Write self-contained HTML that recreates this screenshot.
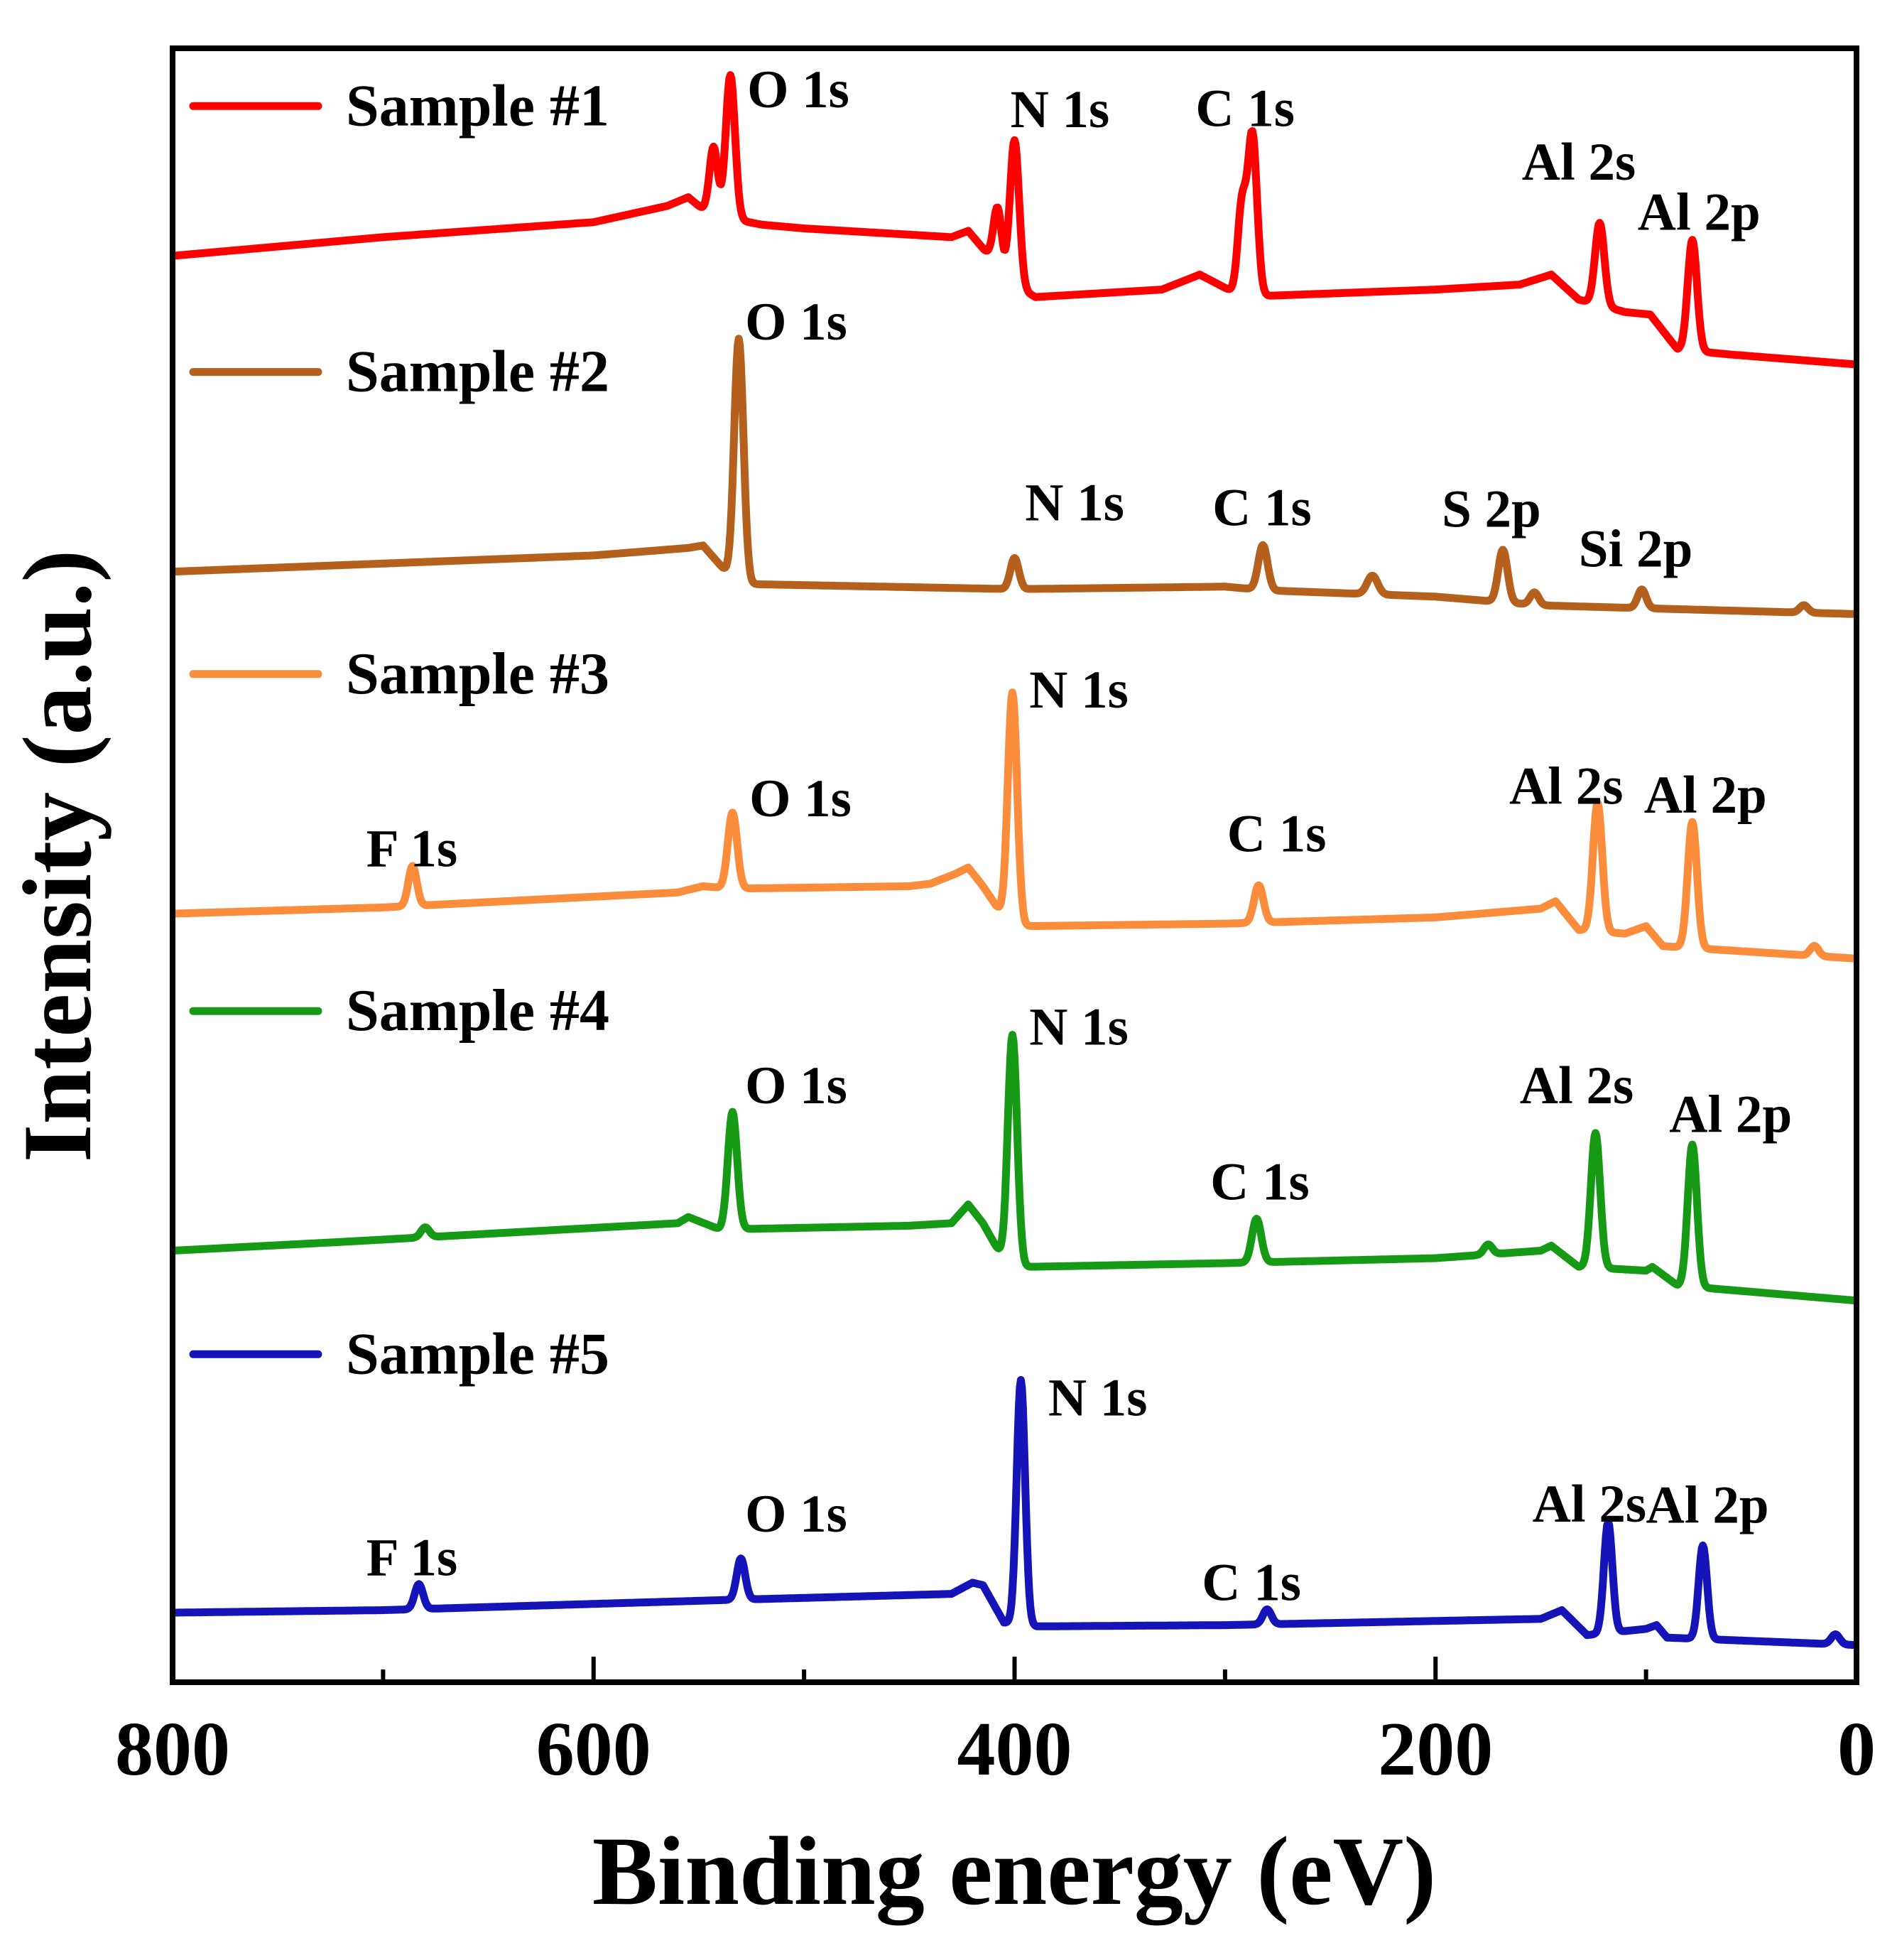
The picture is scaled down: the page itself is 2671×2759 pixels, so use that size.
<!DOCTYPE html>
<html><head><meta charset="utf-8"><style>
html,body{margin:0;padding:0;background:#fff}
svg{display:block}
text{font-family:"Liberation Serif",serif;font-weight:bold;fill:#000}
</style></head><body>
<svg id="chart" width="2671" height="2759" viewBox="0 0 2671 2759" xmlns="http://www.w3.org/2000/svg">
<g id="plot"></g>
<rect x="243" y="68" width="2371" height="2300" fill="none" stroke="#000" stroke-width="8"/>
<g id="ticks"></g>
<g id="labels"></g>
<g id="legend"></g>
<text x="1428" y="2680" font-size="138" text-anchor="middle">Binding energy (eV)</text>
<text transform="translate(127,1205) rotate(-90)" font-size="138" text-anchor="middle">Intensity (a.u.)</text>
</svg>
<script>
const xTicks = [800, 600, 400, 200, 0];
const xMinorTicks = [700, 500, 300, 100];
const seriesNames = ["Sample #1", "Sample #2", "Sample #3", "Sample #4", "Sample #5"];
const seriesColors = ["#ff0000", "#b5601c", "#fa8c3c", "#169a16", "#1414b8"];
const base1 = [[800,1365],[700,1380],[600,1392],[565,1405],[555,1412],[545,1398],[520,1390],[500,1387],[430,1380],[422,1385],[412,1365],[405,1345],[390,1332],[330,1338],[312,1350],[295,1335],[280,1333],[200,1338],[160,1342],[145,1350],[132,1330],[110,1320],[98,1318],[85,1290],[60,1286],[0,1278]];
const peaks1 = [[535,115,2.2],[543,55,2],[400,117,2.2],[408,50,2],[287,128,2.2],[292,70,2],[122,66,2.2],[78,89,2.2]];
const base2 = [[800,1112],[600,1125],[555,1131],[548,1133],[535,1108],[525,1102],[400,1098],[300,1100],[280,1097],[200,1092],[150,1085],[0,1078]];
const peaks2 = [[531,193,2.2],[400,25,2],[282,36,2.2],[230,15,2.5],[168,42,2.2],[153,10,2],[102,15,2],[25,6,2]];
const base3 = [[800,838],[700,843],[560,855],[548,860],[535,858],[450,860],[440,862],[428,870],[422,875],[415,860],[405,835],[395,828],[300,830],[200,835],[150,842],[143,848],[132,825],[110,822],[100,828],[92,812],[0,802]];
const peaks3 = [[686,32,2],[534,61,2.2],[401,183,2.2],[284,30,2.2],[123,103,2.2],[78,101,2.2],[20,8,2]];
const base4 = [[800,568],[720,575],[560,590],[555,595],[540,585],[450,588],[430,590],[422,605],[415,590],[405,560],[395,555],[300,558],[200,562],[150,568],[145,572],[132,555],[100,552],[97,555],[85,540],[0,528]];
const peaks4 = [[680,8,2],[534,94,2.2],[401,183,2.2],[285,35,2.2],[175,8,2],[124,108,2.2],[78,114,2.2]];
const base5 = [[800,278],[700,280],[600,285],[540,288],[430,293],[420,302],[415,300],[405,270],[390,267],[300,268],[150,273],[140,280],[128,260],[100,265],[95,268],[90,258],[0,252]];
const peaks5 = [[683,20,2],[530,33,2],[397,196,2],[280,12,2],[118,89,2],[73,75,2],[10,8,2]];
const peakLabels1 = [["O 1s",527,1484],["N 1s",402,1468],["C 1s",314,1469],["Al 2s",159,1426],["Al 2p",104,1386]];
const peakLabels2 = [["O 1s",528,1298],["N 1s",395,1153],["C 1s",306,1149],["S 2p",197,1148],["Si 2p",132,1116]];
const peakLabels3 = [["F 1s",708,876],["O 1s",526,916],["N 1s",393,1003],["C 1s",299,888],["Al 2s",165,926],["Al 2p",101,919]];
const peakLabels4 = [["O 1s",528,686],["N 1s",393,733],["C 1s",307,609],["Al 2s",160,686],["Al 2p",89,663]];
const peakLabels5 = [["F 1s",708,308],["O 1s",528,343],["N 1s",384,436],["C 1s",311,288],["Al 2s",154,351],["Al 2p",100,350]];
const legendY = [1485, 1272, 1030, 760, 485];

const NS = "http://www.w3.org/2000/svg";
const X0 = 243, X1 = 2614;
function xScale(e){ return X0 + (800 - e) / 800 * (X1 - X0); }
function yScale(i){ return (1570 - i) * 1.757; }
function baseAt(b, e){
  for (let k = 0; k < b.length - 1; k++){
    const [e0,i0] = b[k], [e1,i1] = b[k+1];
    if (e <= e0 && e >= e1){ const t = (e0 - e) / (e0 - e1); return i0 + t * (i1 - i0); }
  }
  return b[b.length-1][1];
}
function mk(tag, attrs, parent){
  const el = document.createElementNS(NS, tag);
  for (const k in attrs) el.setAttribute(k, attrs[k]);
  parent.appendChild(el); return el;
}
const plot = document.getElementById("plot");
const bases = [base1, base2, base3, base4, base5];
const peaks = [peaks1, peaks2, peaks3, peaks4, peaks5];
const plabels = [peakLabels1, peakLabels2, peakLabels3, peakLabels4, peakLabels5];
const labG = document.getElementById("labels");
const legG = document.getElementById("legend");
for (let s = 0; s < 5; s++){
  let d = "";
  for (let e = 800; e >= 0; e -= 0.5){
    let v = baseAt(bases[s], e);
    for (const [c,h,w] of peaks[s]) v += h * Math.exp(-0.5 * ((e - c) / w) ** 2);
    d += (d ? "L" : "M") + xScale(e).toFixed(1) + "," + yScale(v).toFixed(1);
  }
  const p = mk("path", {d: d, fill: "none", stroke: seriesColors[s], "stroke-width": 11, "stroke-linejoin": "round"}, plot);
  
  
  for (const [txt, e, i] of plabels[s]){
    const t = mk("text", {x: xScale(e).toFixed(1), y: yScale(i).toFixed(1), "font-size": 75}, labG);
    t.textContent = txt;
    
    
  }
  const ly = yScale(legendY[s]);
  const ln = mk("line", {x1: 272, x2: 448, y1: ly.toFixed(1), y2: ly.toFixed(1), stroke: seriesColors[s], "stroke-width": 11, "stroke-linecap": "round"}, legG);
  
  
  const lt = mk("text", {x: 487, y: (ly + 27).toFixed(1), "font-size": 84}, legG);
  lt.textContent = seriesNames[s];
  
  
}
const tg = document.getElementById("ticks");
for (const v of xTicks){
  const x = xScale(v);
  const l = mk("line", {x1: x, x2: x, y1: 2368, y2: 2332, stroke: "#000", "stroke-width": 6}, tg);
  
  
  const t = mk("text", {x: x, y: 2498, "font-size": 108, "text-anchor": "middle"}, tg);
  t.textContent = String(v);
  
  
}
for (const v of xMinorTicks){
  const x = xScale(v);
  const l = mk("line", {x1: x, x2: x, y1: 2368, y2: 2350, stroke: "#000", "stroke-width": 6}, tg);
  
  
}
</script>
</body></html>
